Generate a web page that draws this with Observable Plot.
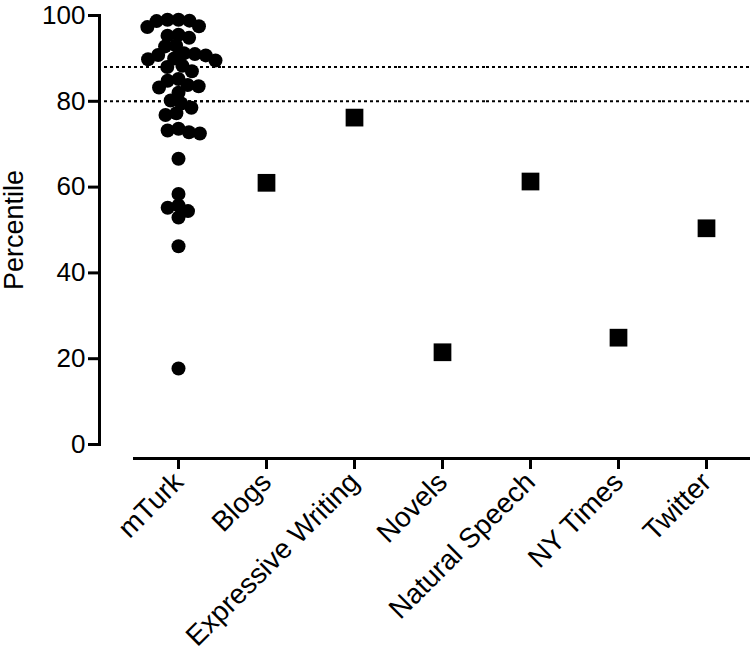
<!DOCTYPE html>
<html><head><meta charset="utf-8">
<script src="https://cdn.jsdelivr.net/npm/d3@7"></script>
<script src="https://cdn.jsdelivr.net/npm/@observablehq/plot@0.6"></script>
<style>
body{margin:0;background:#fff}
svg{font-family:"Liberation Sans",Arial,sans-serif}
</style>
</head><body><div id="chart"></div>
<script>
const categories = ["mTurk","Blogs","Expressive Writing","Novels","Natural Speech","NY Times","Twitter"];
const mturkValues = [99, 99, 98.8, 98.7, 97.5, 97.3, 95.5, 95.3, 94.8, 93, 92.8, 91.2, 91, 90.8, 90.7, 90, 89.8, 89.5, 88.3, 88, 87, 85.2, 84.8, 83.8, 83.5, 83.2, 82, 80.2, 79.5, 78.5, 77.2, 76.8, 73.6, 73.2, 72.8, 72.5, 66.6, 58.4, 55.7, 55.2, 54.4, 52.9, 46.2, 17.7];
const corpusNames = ["Blogs","Expressive Writing","Novels","Natural Speech","NY Times","Twitter"];
const corpusValues = [61.0, 76.2, 21.5, 61.3, 24.9, 50.4];
const thresholds = [80, 88];
const yTicks = [0, 20, 40, 60, 80, 100];
const yTitle = "Percentile";

const mturk = mturkValues.map(v => ({group: "mTurk", value: v}));
const corpus = corpusNames.map((g, i) => ({group: g, value: corpusValues[i]}));

const plot = Plot.plot({
  width: 750, height: 657,
  marginLeft: 134, marginRight: 0, marginTop: 15, marginBottom: 213,
  style: {fontFamily: "Liberation Sans, Arial, sans-serif", fontSize: "24px", color: "black", background: "white"},
  fx: {domain: categories, padding: 0, label: null},
  y: {domain: [0, 100]},
  marks: [
    Plot.ruleY(thresholds, {stroke: "black", strokeWidth: 2, strokeDasharray: "3,3"}),
    Plot.ruleY(thresholds, {stroke: "black", strokeWidth: 2, strokeDasharray: "3,3", insetLeft: -35, strokeDashoffset: 1, facetAnchor: "left"}),
    Plot.frame({anchor: "left", dx: -35, strokeWidth: 3, stroke: "black", facetAnchor: "left"}),
    Plot.frame({anchor: "bottom", dy: 14, strokeWidth: 3, stroke: "black"}),
    Plot.axisY({ticks: yTicks, tickSize: 11, tickPadding: 3, dx: -35, strokeWidth: 3, label: null, fontSize: 26}),
    Plot.text([yTitle], {frameAnchor: "left", textAnchor: "middle", rotate: -90, dx: -120, fontSize: 27, fill: "black", facetAnchor: "left"}),
    Plot.axisFx({anchor: "bottom", tickRotate: -45, tickSize: 11, dy: 14, strokeWidth: 3, tickPadding: 8, fontSize: 28, label: null}),
    Plot.dot(mturk, Plot.dodgeX({anchor: "middle", padding: -3}, {fx: "group", y: "value", r: 7, fill: "black"})),
    Plot.dot(corpus, {fx: "group", y: "value", symbol: "square", r: 10, fill: "black"})
  ]
});
document.getElementById("chart").appendChild(plot);
</script>
</body></html>
